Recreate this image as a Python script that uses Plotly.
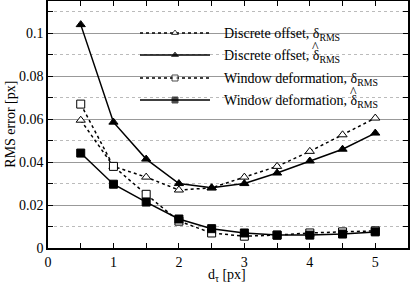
import plotly.graph_objects as go

d_tau = [0.5, 1.0, 1.5, 2.0, 2.5, 3.0, 3.5, 4.0, 4.5, 5.0]
disc_rms = [0.0595, 0.038, 0.033, 0.027, 0.028, 0.033, 0.038, 0.045, 0.0527, 0.0605]
disc_hat = [0.104, 0.0586, 0.0414, 0.030, 0.028, 0.030, 0.0349, 0.0405, 0.046, 0.0535]
win_rms = [0.067, 0.038, 0.025, 0.0125, 0.007, 0.0055, 0.006, 0.007, 0.0075, 0.008]
win_hat = [0.0442, 0.0297, 0.0214, 0.0135, 0.009, 0.007, 0.006, 0.006, 0.0065, 0.0075]

names = ["Discrete offset, δ<sub>RMS</sub>",
         "Discrete offset, δ<sub>RMS</sub>",
         "Window deformation, δ<sub>RMS</sub>",
         "Window deformation, δ<sub>RMS</sub>"]
has_hat = [False, True, False, True]

font = "Liberation Serif"
fnt = dict(family=font, size=14, color="black")
fig = go.Figure()
series = [(disc_rms, "dot", "triangle-up", "white"),
          (disc_hat, "solid", "triangle-up", "black"),
          (win_rms, "dot", "square", "white"),
          (win_hat, "solid", "square", "black")]

for (ys, dash, sym, fill), nm in zip(series, names):
    fig.add_trace(go.Scatter(
        x=d_tau, y=ys, name=nm, mode="lines+markers", showlegend=False,
        line=dict(color="black", width=1.5, dash=dash),
        marker=dict(symbol=sym, size=8, color=fill,
                    line=dict(color="black", width=1))))

# hand-drawn legend on a pixel-unit overlay axis
leg_y = [33, 55, 78, 100]
annotations = [
    dict(text="RMS error [px]", textangle=-90, x=-0.105, y=0.5,
         xref="paper", yref="paper", showarrow=False, font=fnt,
         xanchor="center", yanchor="middle"),
    dict(text="d<sub>τ</sub> [px]", x=0.497, y=-0.11,
         xref="paper", yref="paper", showarrow=False, font=fnt,
         xanchor="center", yanchor="middle"),
]
for (ys, dash, sym, fill), nm, yy, hh in zip(series, names, leg_y, has_hat):
    fig.add_trace(go.Scatter(
        x=[140, 175, 210], y=[yy, yy, yy], xaxis="x2", yaxis="y2",
        mode="lines+markers", showlegend=False, hoverinfo="skip",
        line=dict(color="black", width=1.5, dash=dash),
        marker=dict(symbol=sym, size=[0, 6, 0], color=fill,
                    line=dict(color="black", width=1))))
    annotations.append(dict(text=nm, x=222, y=yy + 1, xref="x2", yref="y2",
                            showarrow=False, font=fnt, xanchor="left", yanchor="middle"))
    if hh:
        hx = 315 if nm.startswith("Discrete") else 353
        annotations.append(dict(text="^", x=hx, y=yy - 8, xref="x2", yref="y2",
                                showarrow=False, font=dict(family=font, size=14, color="black"),
                                xanchor="center", yanchor="middle"))

fig.update_layout(
    width=410, height=283,
    margin=dict(l=48, r=2, t=1, b=35),
    paper_bgcolor="white", plot_bgcolor="white",
    font=fnt,
    showlegend=False,
    annotations=annotations,
    shapes=[dict(type="rect", xref="paper", yref="paper",
                 x0=(137 - 48) / 360, x1=(386 - 48) / 360,
                 y0=(248 - 112) / 247, y1=(248 - 20) / 247,
                 fillcolor="white", line=dict(width=0), layer="between")],
    xaxis2=dict(overlaying="x", range=[48, 408], visible=False, fixedrange=True),
    yaxis2=dict(overlaying="y", range=[248, 1], visible=False, fixedrange=True),
)
fig.layout.xaxis.update(range=[0, 5.5], tickvals=[0, 1, 2, 3, 4, 5], automargin=False,
                 showgrid=False, zeroline=False,
                 showline=True, linecolor="black", linewidth=1.5, mirror="ticks",
                 ticks="inside", ticklen=5, tickcolor="black",
                 minor=dict(dtick=0.5, ticks="inside", ticklen=5, tickcolor="black", showgrid=False),
                 tickfont=fnt)
fig.layout.yaxis.update(range=[0, 0.115], tickvals=[0, 0.02, 0.04, 0.06, 0.08, 0.1], automargin=False,
                 ticktext=["0", "0.02", "0.04", "0.06", "0.08", "0.1"],
                 showgrid=True, gridcolor="#999999", gridwidth=1, zeroline=False,
                 showline=True, linecolor="black", linewidth=1.5, mirror="ticks",
                 ticks="inside", ticklen=5, tickcolor="black",
                 minor=dict(tickvals=[0.01, 0.03, 0.05, 0.07, 0.09, 0.11], ticks="inside", ticklen=5, tickcolor="black",
                            showgrid=True, gridcolor="#bbbbbb", griddash="dot", gridwidth=1),
                 tickfont=fnt)

fig.write_html("out.html", config={"displayModeBar": False},
               post_script="document.body.style.margin='0';")
